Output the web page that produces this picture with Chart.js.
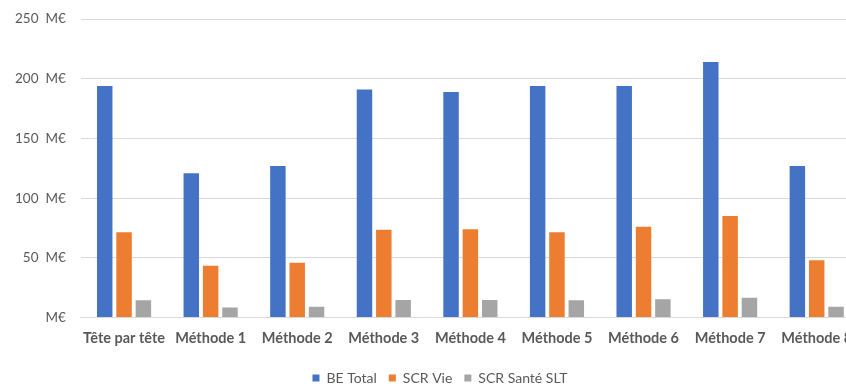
<!DOCTYPE html>
<html>
<head>
<meta charset="utf-8">
<script src="https://cdn.jsdelivr.net/npm/chart.js@4"></script>
<style>
  html, body { margin: 0; padding: 0; background: #fff; overflow: hidden; }
  #wrap { width: 862px; height: 390px; position: relative; top: -4px; }
</style>
</head>
<body>
<div id="wrap"><canvas id="mycanvas"></canvas></div>
<script>
var categories = ['Tête par tête', 'Méthode 1', 'Méthode 2', 'Méthode 3', 'Méthode 4',
                  'Méthode 5', 'Méthode 6', 'Méthode 7', 'Méthode 8'];
var beTotal = [194, 121, 127, 191, 189, 194, 194, 214, 127];
var scrVie = [71.5, 43.5, 46, 73.5, 74, 71.5, 76, 85, 48];
var scrSanteSlt = [14.5, 8.5, 9, 14.8, 14.8, 14.5, 15.3, 16.7, 9];
var yTicks = [0, 50, 100, 150, 200, 250];

var font = 'Lato, "Open Sans", sans-serif';

var chartdata = {
  labels: categories,
  datasets: [
    { label: 'BE Total', backgroundColor: '#4472c4', data: beTotal },
    { label: 'SCR Vie', backgroundColor: '#ed7d31', data: scrVie },
    { label: 'SCR Santé SLT', backgroundColor: '#a5a5a5', data: scrSanteSlt }
  ]
};

// the original legend is centred on a wider (cropped) chart, nudge it right
var legendShift = {
  id: 'legendShift',
  afterLayout: function(chart) {
    chart.legend.left += 10;
    chart.legend.right += 10;
  }
};

var ctx = document.getElementById('mycanvas');
var barGraph = new Chart(ctx, {
  type: 'bar',
  data: chartdata,
  plugins: [legendShift],
  options: {
    responsive: true,
    maintainAspectRatio: false,
    animation: false,
    datasets: { bar: { categoryPercentage: 0.67, barPercentage: 0.8 } },
    layout: { padding: { top: 0, right: 2, left: 0, bottom: -9 } },
    plugins: {
      tooltip: { enabled: false },
      legend: {
        position: 'bottom',
        labels: {
          boxWidth: 7, boxHeight: 7, padding: 12,
          color: '#595959',
          font: { family: font, size: 14 }
        }
      }
    },
    scales: {
      x: {
        grid: { display: false },
        border: { color: '#d9d9d9' },
        afterFit: function(axis) { axis.height += 8; },
        ticks: {
          color: '#595959', maxRotation: 0, padding: 4,
          font: { family: font, size: 14.5, weight: 'bold' }
        }
      },
      y: {
        min: 0, max: 250,
        afterBuildTicks: function(axis) {
          axis.ticks = yTicks.map(function(v) { return { value: v }; });
        },
        grid: { color: '#d9d9d9', drawTicks: false },
        border: { display: false },
        ticks: {
          color: '#595959', padding: 15,
          font: { family: font, size: 13.5 },
          callback: function(v) { return v === 0 ? 'M€' : v + '  M€'; }
        }
      }
    }
  }
});
</script>
</body>
</html>
